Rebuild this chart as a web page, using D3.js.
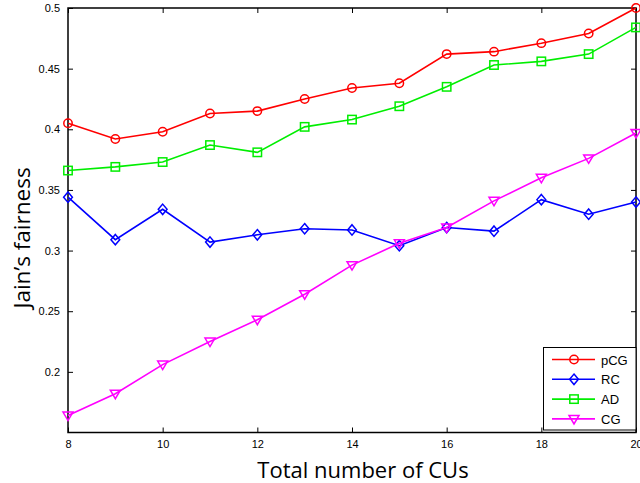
<!DOCTYPE html>
<html><head><meta charset="utf-8">
<script src="https://cdn.jsdelivr.net/npm/d3@7"></script>
<style>body{margin:0;background:#fff}svg{display:block}</style>
</head><body>
<script>
const xValues = [8,9,10,11,12,13,14,15,16,17,18,19,20];
const pCG = [0.405,0.392,0.398,0.413,0.415,0.425,0.434,0.438,0.462,0.464,0.471,0.479,0.500];
const RC  = [0.344,0.309,0.334,0.307,0.313,0.318,0.317,0.304,0.319,0.316,0.342,0.330,0.340];
const AD  = [0.366,0.369,0.373,0.387,0.381,0.402,0.408,0.419,0.435,0.453,0.456,0.462,0.484];
const CG  = [0.164,0.182,0.206,0.225,0.243,0.264,0.288,0.306,0.319,0.341,0.360,0.376,0.397];
const seriesNames = ["pCG","RC","AD","CG"];
const seriesColors = ["#ff0000","#0000ff","#00ee00","#ff00ff"];
const seriesMarkers = ["circle","diamond","square","triangle"];
const xTicks = [8,10,12,14,16,18,20];
const yTicks = [0.2,0.25,0.3,0.35,0.4,0.45,0.5];
const xLabel = "Total number of CUs";
const yLabel = "Jain\u2019s fairness";

const W=640,H=483;
const L=68,R=636,T=8,B=432.5;
const svg=d3.select("body").append("svg").attr("width",W).attr("height",H);
const x=d3.scaleLinear().domain([8,20]).range([L,R]);
const y=d3.scaleLinear().domain([0.15,0.5]).range([B,T]);
const tickFont="Liberation Sans, Arial, sans-serif";

// axes
const gx=svg.append("g").attr("transform",`translate(0,${B})`)
  .call(d3.axisBottom(x).tickValues(xTicks).tickFormat(d3.format("d")).tickSizeInner(-5).tickSizeOuter(0).tickPadding(8));
const gxt=svg.append("g").attr("transform",`translate(0,${T})`)
  .call(d3.axisTop(x).tickValues(xTicks).tickFormat("").tickSizeInner(-5).tickSizeOuter(0));
const gy=svg.append("g").attr("transform",`translate(${L},0)`)
  .call(d3.axisLeft(y).tickValues(yTicks).tickFormat(d=>String(+d.toFixed(2))).tickSizeInner(-5).tickSizeOuter(0).tickPadding(8));
const gyr=svg.append("g").attr("transform",`translate(${R},0)`)
  .call(d3.axisRight(y).tickValues(yTicks).tickFormat("").tickSizeInner(-5).tickSizeOuter(0));
[gx,gxt,gy,gyr].forEach(g=>{
  g.selectAll("path.domain").remove();
  g.selectAll("line").attr("stroke","#000").attr("stroke-width",1);
  g.selectAll("text").attr("font-family",tickFont).attr("font-size",11).attr("fill","#000");
});
svg.append("rect").attr("x",L).attr("y",T).attr("width",R-L).attr("height",B-T)
  .attr("fill","none").attr("stroke","#000").attr("stroke-width",1.5);

const allSeries=[pCG,RC,AD,CG];
const line=d3.line().x((d,i)=>x(xValues[i])).y(d=>y(d));

function marker(g,type,cx,cy,color){
  const s=4.2;
  let p;
  if(type==="circle") p=g.append("circle").attr("cx",cx).attr("cy",cy).attr("r",s);
  else if(type==="square") p=g.append("rect").attr("x",cx-s).attr("y",cy-s).attr("width",2*s).attr("height",2*s);
  else if(type==="diamond") p=g.append("path").attr("d",`M${cx},${cy-5.2}L${cx+4.4},${cy}L${cx},${cy+5.2}L${cx-4.4},${cy}Z`);
  else p=g.append("path").attr("d",`M${cx-5},${cy-3.5}L${cx+5},${cy-3.5}L${cx},${cy+5}Z`);
  p.attr("fill","none").attr("stroke",color).attr("stroke-width",1.5);
}

const plot=svg.append("g");
allSeries.forEach((vals,k)=>{
  plot.append("path").datum(vals).attr("d",line).attr("fill","none")
    .attr("stroke",seriesColors[k]).attr("stroke-width",1.6);
  vals.forEach((v,i)=>marker(plot,seriesMarkers[k],x(xValues[i]),y(v),seriesColors[k]));
});

// legend
const lg=svg.append("g");
lg.append("rect").attr("x",543.5).attr("y",347.5).attr("width",92.5).attr("height",82.5)
  .attr("fill","#fff").attr("stroke","#000").attr("stroke-width",1);
seriesNames.forEach((n,k)=>{
  const yy=359.5+k*19.8;
  lg.append("line").attr("x1",552).attr("x2",595).attr("y1",yy).attr("y2",yy)
    .attr("stroke",seriesColors[k]).attr("stroke-width",1.6);
  marker(lg,seriesMarkers[k],574,yy,seriesColors[k]);
  lg.append("text").attr("x",601).attr("y",yy+5).text(n)
    .attr("font-family",tickFont).attr("font-size",13).attr("fill","#000");
});

// axis labels
svg.append("text").attr("x",363).attr("y",478).attr("text-anchor","middle")
  .attr("font-family","Open Sans, Noto Sans, sans-serif").attr("font-size",22).attr("fill","#000").text(xLabel);
svg.append("text").attr("transform","translate(30,238) rotate(-90)").attr("text-anchor","middle")
  .attr("font-family","Open Sans, Noto Sans, sans-serif").attr("font-size",22.5).attr("fill","#000").text(yLabel);
</script>
</body></html>
